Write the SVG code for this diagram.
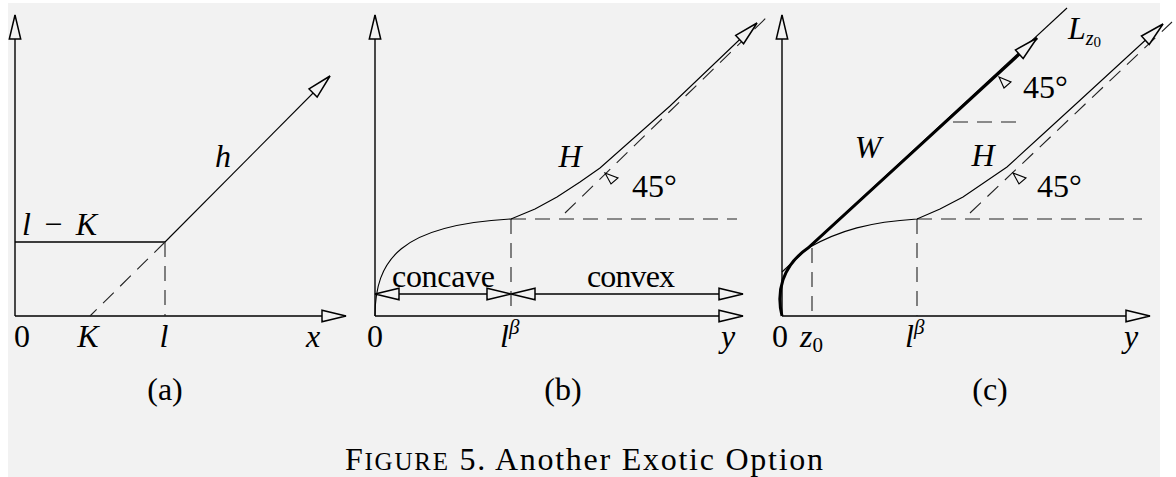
<svg xmlns="http://www.w3.org/2000/svg" width="1176" height="477" viewBox="0 0 1176 477">
<style>
.ax{stroke:#000;stroke-width:1.4;fill:none}
.ln{stroke:#000;stroke-width:1.1;fill:none}
.th{stroke:#000;stroke-width:3;fill:none}
.da{stroke:#222;stroke-width:1.1;fill:none;stroke-dasharray:15 9}
.t{font-family:"Liberation Serif","Times New Roman",serif;font-size:32px;fill:#000}
.i{font-style:italic}
.tick{fill:#f2f2f2;stroke:#000;stroke-width:1.1}
</style>
<defs>
<marker id="arr" markerUnits="userSpaceOnUse" markerWidth="30" markerHeight="16" viewBox="-23 -7 25 14" refX="0" refY="0" orient="auto-start-reverse">
<path d="M0,0 L-21,-5 L-21,5 Z" fill="#f2f2f2" stroke="#000" stroke-width="1.3"/>
</marker>
</defs>
<rect x="0" y="0" width="1176" height="477" fill="#fff"/>
<rect x="8" y="3" width="1152" height="474" fill="#f2f2f2"/>

<g id="connectors">
<line class="ax" x1="15" y1="316" x2="15" y2="15" marker-end="url(#arr)"/>
<line class="ax" x1="15" y1="316" x2="346" y2="316" marker-end="url(#arr)"/>
<line class="ax" x1="15" y1="242" x2="165" y2="242"/>
<line class="ln" x1="165" y1="242" x2="330" y2="76" marker-end="url(#arr)"/>
<line class="da" x1="165" y1="242" x2="90" y2="316"/>
<line class="da" x1="165" y1="242" x2="165" y2="316"/>
<line class="ax" x1="375" y1="316" x2="375" y2="15" marker-end="url(#arr)"/>
<line class="ax" x1="375" y1="316" x2="743" y2="316" marker-end="url(#arr)"/>
<line class="ax" x1="375" y1="294" x2="511" y2="294" marker-start="url(#arr)" marker-end="url(#arr)"/>
<line class="ax" x1="511" y1="294" x2="743" y2="294" marker-start="url(#arr)" marker-end="url(#arr)"/>
<line class="da" x1="511" y1="219" x2="511" y2="316"/>
<line class="da" x1="511" y1="219" x2="737" y2="219"/>
<line class="da" x1="565" y1="213" x2="766" y2="18"/>
<path class="ln" d="M375,316 C375,260 400,225 511,219 L535,209 L557,197 L580,182 L600,168 L635,137 L670,106 L757,23" marker-end="url(#arr)"/>
<polygon class="tick" points="605,173 618,178 611,184"/>
<line class="ax" x1="782" y1="316" x2="782" y2="15" marker-end="url(#arr)"/>
<line class="ax" x1="782" y1="316" x2="1150" y2="316" marker-end="url(#arr)"/>
<line class="da" x1="812" y1="248" x2="812" y2="316"/>
<line class="da" x1="917" y1="219" x2="917" y2="316"/>
<line class="da" x1="917" y1="219" x2="1142" y2="219"/>
<line class="da" x1="953" y1="122" x2="1022" y2="122"/>
<line class="da" x1="970" y1="213" x2="1172" y2="22"/>
<line class="ln" x1="782" y1="272" x2="1067" y2="8"/>
<path class="th" d="M782,316 C776,292 782,266 808,248 L1037,38" marker-end="url(#arr)"/>
<path class="ln" d="M808,248 C840,230 870,222 917,219 L940,209 L963,197 L985,182 L1007,167 L1042,135 L1077,103 L1163,24" marker-end="url(#arr)"/>
<polygon class="tick" points="999,77 1011,82 1004,88"/>
<polygon class="tick" points="1013,173 1026,178 1019,184"/>
</g>

<g id="labels-a">
<text class="t" x="22" y="347" text-anchor="middle">0</text>
<text class="t i" x="88" y="347" text-anchor="middle">K</text>
<text class="t i" x="164" y="347" text-anchor="middle">l</text>
<text class="t i" x="313" y="347" text-anchor="middle">x</text>
<text class="t" x="22" y="235" textLength="75"><tspan class="i">l</tspan> − <tspan class="i">K</tspan></text>
<text class="t i" x="223" y="167" text-anchor="middle">h</text>
<text class="t" x="165" y="400" text-anchor="middle">(a)</text>
</g>

<g id="labels-b">
<text class="t" x="375" y="347" text-anchor="middle">0</text>
<text class="t" x="500" y="347"><tspan class="i">l</tspan><tspan font-size="21" dy="-13" class="i">β</tspan></text>
<text class="t i" x="728" y="347" text-anchor="middle">y</text>
<text class="t i" x="570" y="167" text-anchor="middle">H</text>
<text class="t" x="632" y="197">45°</text>
<text class="t" x="392" y="287" textLength="103">concave</text>
<text class="t" x="587" y="287" textLength="88">convex</text>
<text class="t" x="563" y="400" text-anchor="middle">(b)</text>
</g>

<g id="labels-c">
<text class="t" x="780" y="347" text-anchor="middle">0</text>
<text class="t" x="800" y="347"><tspan class="i">z</tspan><tspan font-size="21" dy="5">0</tspan></text>
<text class="t" x="905" y="347"><tspan class="i">l</tspan><tspan font-size="21" dy="-13" class="i">β</tspan></text>
<text class="t i" x="1131" y="347" text-anchor="middle">y</text>
<text class="t i" x="868" y="158" text-anchor="middle">W</text>
<text class="t i" x="983" y="166" text-anchor="middle">H</text>
<text class="t" x="1023" y="98">45°</text>
<text class="t" x="1037" y="197">45°</text>
<text class="t" x="1068" y="39"><tspan class="i">L</tspan><tspan font-size="20" dy="6" class="i">z</tspan><tspan font-size="15" dy="2">0</tspan></text>
<text class="t" x="990" y="400" text-anchor="middle">(c)</text>
</g>

<g id="caption">
<text class="t" x="345" y="470" textLength="478">F<tspan font-size="25">IGURE</tspan> 5.  Another Exotic Option</text>
</g>
</svg>
